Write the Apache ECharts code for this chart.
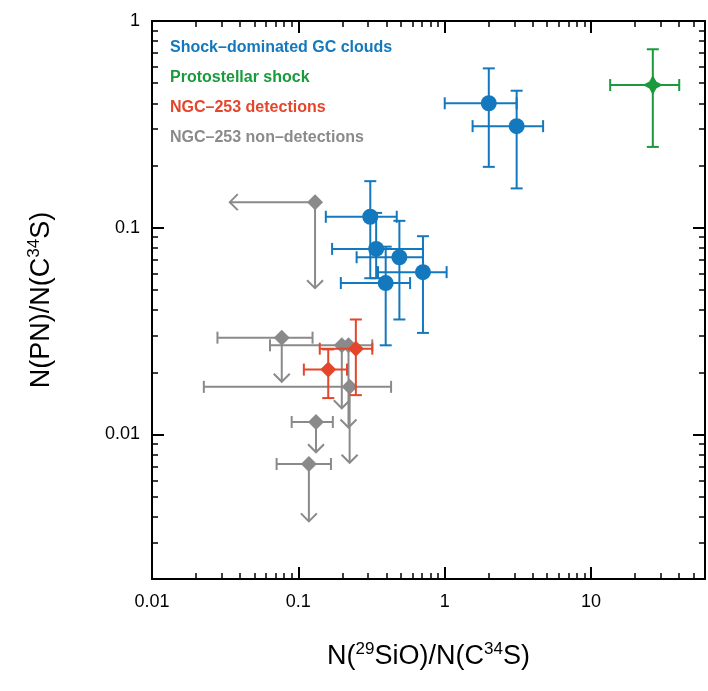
<!DOCTYPE html>
<html><head><meta charset="utf-8">
<script src="https://cdn.jsdelivr.net/npm/echarts@6/dist/echarts.min.js"></script>
<style>html,body{margin:0;padding:0;background:#fff}#c{width:708px;height:691px}</style>
</head><body><div id="c"></div>
<script>
// [x, y, xLow, xHigh, yLow, yHigh]
const shockClouds = [
  [2.0, 0.40, 1.0, 3.1, 0.197, 0.59],
  [3.1, 0.31, 1.55, 4.7, 0.155, 0.46],
  [0.31, 0.113, 0.154, 0.47, 0.057, 0.168],
  [0.34, 0.079, 0.17, 0.71, 0.057, 0.118],
  [0.49, 0.072, 0.25, 0.71, 0.036, 0.108],
  [0.71, 0.061, 0.35, 1.03, 0.031, 0.091],
  [0.395, 0.054, 0.195, 0.58, 0.027, 0.081]
];
const protoShock = [[26.4, 0.49, 13.5, 40, 0.246, 0.73]];
const ngcDet = [
  [0.16, 0.0206, 0.109, 0.215, 0.015, 0.0258],
  [0.247, 0.026, 0.14, 0.32, 0.0155, 0.036]
];
// [x, y, xLow, xHigh, yArrowEnd, xArrowEnd]
const ngcNonDet = [
  [0.13, 0.133, null, null, 0.051, 0.034],
  [0.077, 0.0294, 0.028, 0.125, 0.018, null],
  [0.198, 0.027, 0.064, 0.32, 0.0134, null],
  [0.22, 0.027, null, null, 0.0108, null],
  [0.224, 0.017, 0.0226, 0.43, 0.0073, null],
  [0.132, 0.0115, 0.090, 0.172, 0.0082, null],
  [0.118, 0.0072, 0.071, 0.167, 0.0038, null]
];
const blue = '#1378bd', green = '#1a9a3c', red = '#e4462c', gray = '#8a8a8a';

function errBars(color) {
  return function (params, api) {
    const p = api.coord([api.value(0), api.value(1)]);
    const ch = [];
    const st = {stroke: color, lineWidth: 2};
    const c = 6;
    const xl = api.coord([api.value(2), api.value(1)])[0];
    const xh = api.coord([api.value(3), api.value(1)])[0];
    const yl = api.coord([api.value(0), api.value(4)])[1];
    const yh = api.coord([api.value(0), api.value(5)])[1];
    ch.push({type: 'line', shape: {x1: xl, y1: p[1], x2: xh, y2: p[1]}, style: st});
    ch.push({type: 'line', shape: {x1: xl, y1: p[1] - c, x2: xl, y2: p[1] + c}, style: st});
    ch.push({type: 'line', shape: {x1: xh, y1: p[1] - c, x2: xh, y2: p[1] + c}, style: st});
    ch.push({type: 'line', shape: {x1: p[0], y1: yl, x2: p[0], y2: yh}, style: st});
    ch.push({type: 'line', shape: {x1: p[0] - c, y1: yl, x2: p[0] + c, y2: yl}, style: st});
    ch.push({type: 'line', shape: {x1: p[0] - c, y1: yh, x2: p[0] + c, y2: yh}, style: st});
    return {type: 'group', children: ch};
  };
}
function limits(params, api) {
  const d = ngcNonDet[params.dataIndex];
  const p = api.coord([d[0], d[1]]);
  const ch = [];
  const st = {stroke: gray, lineWidth: 2};
  const c = 6, a = 8;
  if (d[2] != null) {
    const xl = api.coord([d[2], d[1]])[0], xh = api.coord([d[3], d[1]])[0];
    ch.push({type: 'line', shape: {x1: xl, y1: p[1], x2: xh, y2: p[1]}, style: st});
    ch.push({type: 'line', shape: {x1: xl, y1: p[1] - c, x2: xl, y2: p[1] + c}, style: st});
    ch.push({type: 'line', shape: {x1: xh, y1: p[1] - c, x2: xh, y2: p[1] + c}, style: st});
  }
  const ye = api.coord([d[0], d[4]])[1];
  ch.push({type: 'line', shape: {x1: p[0], y1: p[1], x2: p[0], y2: ye}, style: st});
  ch.push({type: 'polyline', shape: {points: [[p[0] - a, ye - a], [p[0], ye], [p[0] + a, ye - a]]}, style: {stroke: gray, lineWidth: 2, fill: null}});
  if (d[5] != null) {
    const xe = api.coord([d[5], d[1]])[0];
    ch.push({type: 'line', shape: {x1: p[0], y1: p[1], x2: xe, y2: p[1]}, style: st});
    ch.push({type: 'polyline', shape: {points: [[xe + a, p[1] - a], [xe, p[1]], [xe + a, p[1] + a]]}, style: {stroke: gray, lineWidth: 2, fill: null}});
  }
  return {type: 'group', children: ch};
}

const font = 'Helvetica, "Liberation Sans", Arial, sans-serif';
const axisCommon = {
  type: 'log', logBase: 10,
  axisLine: {lineStyle: {color: '#000', width: 2}},
  axisTick: {inside: true, length: 12, lineStyle: {color: '#000', width: 2}},
  minorTick: {show: true, splitNumber: 9, length: 6, lineStyle: {color: '#000', width: 1.5}},
  splitLine: {show: false}
};
const decades = [0.01, 0.1, 1, 10];
const fmt = v => {
  const r = +(+v).toPrecision(3);
  return decades.indexOf(r) >= 0 ? String(r) : '';
};
const sup = {fontSize: 17, fontFamily: font, color: '#000', padding: [0, 0, 14, 0]};
const big = {fontSize: 27, fontFamily: font, color: '#000'};

const chart = echarts.init(document.getElementById('c'));
chart.setOption({
  animation: false,
  grid: {left: 152, right: 3, top: 21, bottom: 112, outerBoundsMode: 'none', containLabel: false},
  xAxis: [
    Object.assign({}, axisCommon, {min: 0.01, max: 60, position: 'bottom',
      axisLabel: {formatter: fmt, fontSize: 18, fontFamily: font, color: '#000', margin: 14},
      name: '{a|N(}{s|29}{a|SiO)/N(C}{s|34}{a|S)}', nameLocation: 'middle', nameGap: 62,
      nameTextStyle: {rich: {a: big, s: sup}}}),
    Object.assign({}, axisCommon, {min: 0.01, max: 60, position: 'top', axisLabel: {show: false}})
  ],
  yAxis: [
    Object.assign({}, axisCommon, {min: 0.002, max: 1, position: 'left',
      axisLabel: {formatter: fmt, fontSize: 18, fontFamily: font, color: '#000', margin: 12},
      name: '{a|N(PN)/N(C}{s|34}{a|S)}', nameLocation: 'middle', nameGap: 95,
      nameTextStyle: {rich: {a: big, s: sup}}}),
    Object.assign({}, axisCommon, {min: 0.002, max: 1, position: 'right', axisLabel: {show: false}})
  ],
  graphic: [
    {type: 'text', left: 170, top: 40, style: {text: 'Shock\u2013dominated GC clouds', fill: blue, font: 'bold 16px ' + font}},
    {type: 'text', left: 170, top: 70, style: {text: 'Protostellar shock', fill: green, font: 'bold 16px ' + font}},
    {type: 'text', left: 170, top: 100, style: {text: 'NGC\u2013253 detections', fill: red, font: 'bold 16px ' + font}},
    {type: 'text', left: 170, top: 130, style: {text: 'NGC\u2013253 non\u2013detections', fill: gray, font: 'bold 16px ' + font}}
  ],
  series: [
    {type: 'custom', renderItem: limits, data: ngcNonDet.map(d => [d[0], d[1]]), z: 2},
    {type: 'scatter', data: ngcNonDet.map(d => [d[0], d[1]]), symbol: 'diamond', symbolSize: 16, itemStyle: {color: gray, opacity: 1}, z: 3},
    {type: 'custom', renderItem: errBars(blue), data: shockClouds, z: 4},
    {type: 'scatter', data: shockClouds.map(d => [d[0], d[1]]), symbol: 'circle', symbolSize: 16, itemStyle: {color: blue, opacity: 1}, z: 5},
    {type: 'custom', renderItem: errBars(red), data: ngcDet, z: 4},
    {type: 'scatter', data: ngcDet.map(d => [d[0], d[1]]), symbol: 'diamond', symbolSize: 16, itemStyle: {color: red, opacity: 1}, z: 5},
    {type: 'custom', renderItem: errBars(green), data: protoShock, z: 4},
    {type: 'scatter', data: protoShock.map(d => [d[0], d[1]]), symbol: 'path://M0,-10L3.5,-3.5L10,0L3.5,3.5L0,10L-3.5,3.5L-10,0L-3.5,-3.5Z', symbolSize: 20, itemStyle: {color: green, opacity: 1}, z: 5}
  ]
});
</script></body></html>
